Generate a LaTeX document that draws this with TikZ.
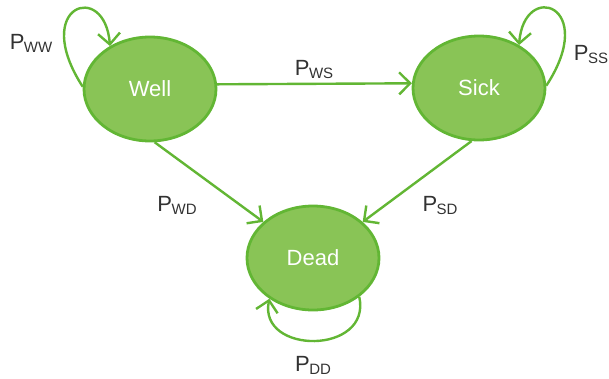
\documentclass[tikz,border=0pt]{standalone}
\usepackage{fontspec}
\setmainfont{Liberation Sans}
\usetikzlibrary{arrows.meta,shapes.geometric}
\definecolor{stfill}{RGB}{137,196,86}
\definecolor{stline}{RGB}{98,182,52}
\definecolor{lbl}{RGB}{50,50,50}
\newcommand{\trans}[1]{P\kern-0.5pt\raisebox{-3pt}{\fontsize{15}{15}\selectfont #1}}
\tikzset{
  state/.style={ellipse, draw=stline, fill=stfill, line width=2.8pt,
    minimum width=132pt, minimum height=104pt, inner sep=0pt,
    text=white, font=\fontsize{22}{22}\selectfont},
  link/.style={draw=stline, line width=2.4pt,
    -{Straight Barb[length=11pt,width=22pt,line width=2.4pt]}},
  prob/.style={text=lbl, font=\fontsize{22}{22}\selectfont, inner sep=0pt}
}
\begin{document}
\begin{tikzpicture}[x=1pt,y=-1pt]
  \useasboundingbox (0,0) rectangle (609,378);
  % the three states
  \node[state] (well) at (150,89) {Well};
  \node[state] (sick) at (479,88) {Sick};
  \node[state] (dead) at (313,258) {Dead};
  % transitions between states
  \draw[link] (well.4) -- (sick.176);
  \draw[link] (well.-85) -- (dead.144);
  \draw[link] (sick.-98) -- (dead.36);
  % self loops
  \draw[link] (well.178) .. controls (30,5) and (105,-20) .. (well.133);
  \draw[link] (sick.2) .. controls (599,5) and (524,-20) .. (sick.47);
  \draw[link] (dead.-40) .. controls (372,355) and (258,355) .. (dead.-137);
  % transition probabilities
  \node[prob] (pws) at (314,70) {\trans{WS}};
  \node[prob] (pwd) at (177,205) {\trans{WD}};
  \node[prob] (psd) at (440,205) {\trans{SD}};
  \node[prob] (pww) at (31,43) {\trans{WW}};
  \node[prob] (pss) at (591,55) {\trans{SS}};
  \node[prob] (pdd) at (313,365) {\trans{DD}};
\end{tikzpicture}
\end{document}
